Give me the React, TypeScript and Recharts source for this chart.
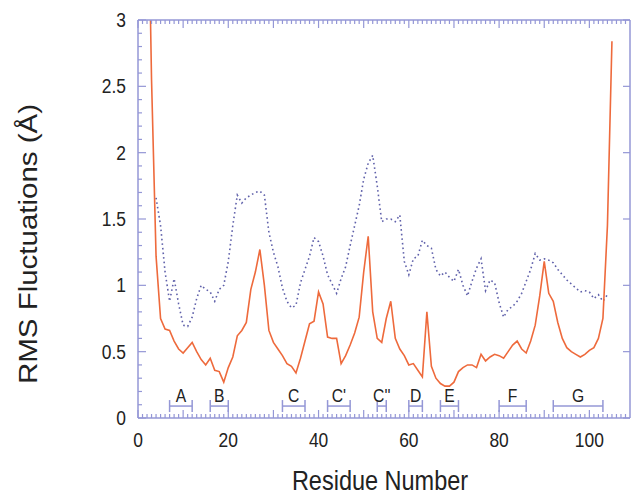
import React from 'react';
import { ComposedChart, Line, Scatter, ErrorBar, XAxis, YAxis } from 'recharts';

// residue numbering of each series starts at these values
const solidStart = 2;
const solidValues = [
  4.5, 2.55, 1.22, 0.75, 0.67, 0.66, 0.58, 0.52, 0.49, 0.53,
  0.57, 0.5, 0.44, 0.4, 0.45, 0.36, 0.35, 0.27, 0.38, 0.46,
  0.62, 0.66, 0.72, 0.97, 1.1, 1.27, 1.0, 0.66, 0.57, 0.52,
  0.47, 0.41, 0.39, 0.34, 0.45, 0.58, 0.71, 0.73, 0.95, 0.86,
  0.61, 0.6, 0.6, 0.41, 0.47, 0.55, 0.64, 0.76, 1.1, 1.37,
  0.8, 0.6, 0.57, 0.75, 0.88, 0.6, 0.52, 0.47, 0.4, 0.41,
  0.36, 0.31, 0.8, 0.39, 0.3, 0.26, 0.24, 0.24, 0.27, 0.35,
  0.38, 0.4, 0.4, 0.38, 0.48, 0.43, 0.46, 0.48, 0.47, 0.45,
  0.5, 0.55, 0.58, 0.52, 0.49, 0.58, 0.7, 0.92, 1.18, 0.94,
  0.88, 0.72, 0.6, 0.53, 0.5, 0.48, 0.46, 0.48, 0.51, 0.53,
  0.6, 0.75, 1.45, 2.84,
];

const dottedStart = 4;
const dottedValues = [
  1.66, 1.45, 1.1, 0.88, 1.05, 0.86, 0.7, 0.69, 0.76, 0.9,
  1.0, 0.97, 0.95, 0.88, 0.97, 1.0, 1.18, 1.45, 1.68, 1.62,
  1.66, 1.68, 1.7, 1.71, 1.68, 1.4, 1.25, 1.14, 0.98, 0.88,
  0.83, 0.85, 1.02, 1.12, 1.22, 1.36, 1.33, 1.22, 1.08, 1.01,
  0.94, 1.05, 1.14, 1.3, 1.45, 1.6, 1.8, 1.92, 1.98, 1.75,
  1.48, 1.5, 1.5, 1.48, 1.53, 1.18, 1.08, 1.2, 1.22, 1.34,
  1.3, 1.28, 1.12, 1.07, 1.1, 1.06, 1.03, 1.12, 1.0, 0.92,
  1.03, 1.13, 1.2, 0.96, 1.04, 1.02, 0.87, 0.76, 0.82, 0.84,
  0.88, 0.94, 1.03, 1.12, 1.24, 1.19, 1.2, 1.19, 1.17, 1.12,
  1.08, 1.04, 1.01, 0.98, 0.95, 0.96, 0.95, 0.9, 0.93, 0.88,
  0.93,
];

// secondary structure strands: label, first and last residue
const strandLabels = ['A', 'B', 'C', "C'", "C''", 'D', 'E', 'F', 'G'];
const strandStarts = [7, 16, 32, 42, 53, 60, 67, 80, 92];
const strandEnds = [12, 20, 37, 47, 55, 63, 71, 86, 103];

const xTickLabels = [0, 20, 40, 60, 80, 100];
const yTickLabels = ['0', '0.5', '1', '1.5', '2', '2.5', '3'];

const AXIS = '#9497d6';
const ORANGE = '#ee6a3c';
const DOTTED = '#5f60aa';
const TEXT = '#222';
const FONT = '"Liberation Sans", Arial, Helvetica, sans-serif';
const SQUEEZE = 0.87;
const STRAND_Y = 0.09;
const X_MAX = 109;

const table: { r: number; solid?: number; dotted?: number }[] = [];
for (let r = solidStart; r < solidStart + solidValues.length; r++) {
  const row: { r: number; solid?: number; dotted?: number } = { r, solid: solidValues[r - solidStart] };
  const di = r - dottedStart;
  if (di >= 0 && di < dottedValues.length) row.dotted = dottedValues[di];
  table.push(row);
}

const strands = strandLabels.map((label, i) => ({
  r: (strandStarts[i] + strandEnds[i]) / 2,
  y: STRAND_Y,
  half: (strandEnds[i] - strandStarts[i]) / 2,
  label,
}));

const xMinor = Array.from({ length: X_MAX }, (_, i) => i);
const yMinor = Array.from({ length: 31 }, (_, i) => i / 10);
const yMajor = yTickLabels.map(Number);

function Squeezed({ x, y, size, anchor, children }: any) {
  return (
    <text
      transform={`translate(${x},${y}) scale(${SQUEEZE},1)`}
      textAnchor={anchor}
      fontSize={size}
      fontFamily={FONT}
      fill={TEXT}
    >
      {children}
    </text>
  );
}

function BottomTick({ x, y, payload }: any) {
  const v = Math.round(payload.value);
  const len = v % 10 === 0 ? 8 : 4;
  return (
    <g>
      <line x1={x} x2={x} y1={y} y2={y - len} stroke={AXIS} strokeWidth={1.2} />
      {xTickLabels.includes(v) && (
        <Squeezed x={x} y={y + 29} size={20} anchor="middle">{v}</Squeezed>
      )}
    </g>
  );
}

function TopTick({ x, y, payload }: any) {
  const v = Math.round(payload.value);
  const len = v % 10 === 0 ? 8 : 4;
  return <line x1={x} x2={x} y1={y} y2={y + len} stroke={AXIS} strokeWidth={1.2} />;
}

function LeftTick({ x, y, payload }: any) {
  const tenth = Math.round(payload.value * 10);
  const major = tenth % 5 === 0;
  const label = yTickLabels[tenth / 5];
  return (
    <g>
      <line x1={x} x2={x + (major ? 8 : 4)} y1={y} y2={y} stroke={AXIS} strokeWidth={1.2} />
      {major && (
        <Squeezed x={x - 12} y={y + 7} size={20} anchor="end">{label}</Squeezed>
      )}
    </g>
  );
}

function RightTick({ x, y }: any) {
  return <line x1={x} x2={x - 7} y1={y} y2={y} stroke={AXIS} strokeWidth={1.2} />;
}

function StrandLabel({ cx, cy, payload }: any) {
  return (
    <Squeezed x={cx} y={cy - 4} size={18} anchor="middle">{payload.label}</Squeezed>
  );
}

export default function App() {
  return (
    <div style={{ position: 'absolute', left: 0, top: 0, width: 631, height: 495, background: '#fff' }}>
      <ComposedChart width={631} height={495} data={table} margin={{ top: 0, right: 0, left: 0, bottom: 0 }}>
        <XAxis
          xAxisId="b"
          type="number"
          dataKey="r"
          domain={[0, X_MAX]}
          allowDataOverflow
          ticks={xMinor}
          interval={0}
          tickSize={0}
          tickMargin={0}
          height={77}
          tick={<BottomTick />}
          tickLine={false}
          axisLine={{ stroke: AXIS, strokeWidth: 1.5 }}
          label={{
            content: ({ viewBox }: any) => (
              <Squeezed x={viewBox.x + viewBox.width / 2 - 4} y={490} size={27} anchor="middle">
                Residue Number
              </Squeezed>
            ),
          }}
        />
        <XAxis
          xAxisId="t"
          orientation="top"
          type="number"
          dataKey="r"
          domain={[0, X_MAX]}
          allowDataOverflow
          ticks={xMinor}
          interval={0}
          tickSize={0}
          tickMargin={0}
          height={20}
          tick={<TopTick />}
          tickLine={false}
          axisLine={{ stroke: AXIS, strokeWidth: 1.5 }}
        />
        <YAxis
          yAxisId="l"
          type="number"
          domain={[0, 3]}
          allowDataOverflow
          ticks={yMinor}
          interval={0}
          tickSize={0}
          tickMargin={0}
          width={138}
          tick={<LeftTick />}
          tickLine={false}
          axisLine={{ stroke: AXIS, strokeWidth: 1.5 }}
          label={{
            content: () => (
              <text
                transform={`translate(37,244) rotate(-90) scale(1,${SQUEEZE})`}
                textAnchor="middle"
                fontSize={29.5}
                fontFamily={FONT}
                fill={TEXT}
              >
                RMS Fluctuations (Å)
              </text>
            ),
          }}
        />
        <YAxis
          yAxisId="r"
          orientation="right"
          type="number"
          domain={[0, 3]}
          allowDataOverflow
          ticks={yMajor}
          interval={0}
          tickSize={0}
          tickMargin={0}
          width={1}
          tick={<RightTick />}
          tickLine={false}
          axisLine={{ stroke: AXIS, strokeWidth: 1.5 }}
        />
        <Line
          xAxisId="b"
          yAxisId="l"
          type="linear"
          dataKey="dotted"
          stroke={DOTTED}
          strokeWidth={1.6}
          strokeDasharray="1.6 3"
          dot={false}
          isAnimationActive={false}
        />
        <Line
          xAxisId="b"
          yAxisId="l"
          type="linear"
          dataKey="solid"
          stroke={ORANGE}
          strokeWidth={1.6}
          dot={false}
          isAnimationActive={false}
        />
        <Scatter
          xAxisId="b"
          yAxisId="l"
          data={strands}
          dataKey="y"
          shape={<StrandLabel />}
          isAnimationActive={false}
        >
          <ErrorBar dataKey="half" direction="x" width={6} stroke={AXIS} strokeWidth={1.5} />
        </Scatter>
      </ComposedChart>
    </div>
  );
}
